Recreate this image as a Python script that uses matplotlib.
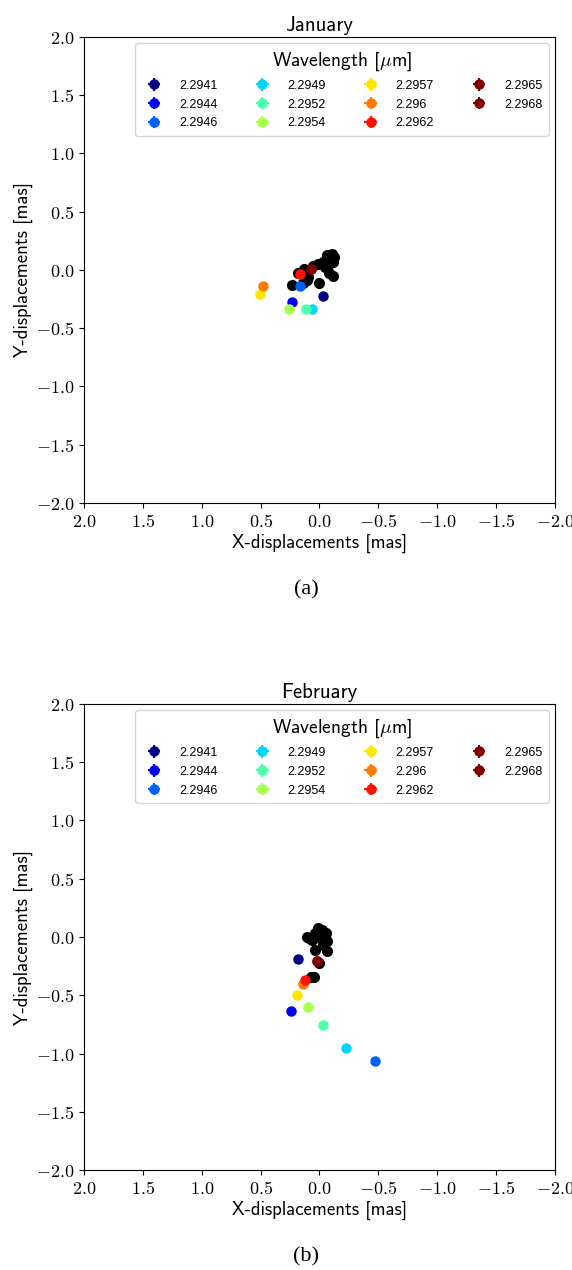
import matplotlib
matplotlib.use("Agg")
import matplotlib.pyplot as plt
from matplotlib.ticker import FuncFormatter
import numpy as np

plt.rcParams['mathtext.fontset'] = 'cm'

wavelengths = ['2.2941', '2.2944', '2.2946', '2.2949', '2.2952', '2.2954',
               '2.2957', '2.296', '2.2962', '2.2965', '2.2968']

# January - coloured points, one per wavelength
jan_x = [-0.032, 0.231, 0.166, 0.061, 0.117, 0.256, 0.505, 0.477, 0.166, 0.072, 0.072]
jan_y = [-0.220, -0.277, -0.137, -0.332, -0.337, -0.335, -0.206, -0.137, -0.037, 0.008, 0.008]
# January - black points
jan_bx = [0.231, 0.138, 0.180, 0.132, 0.095, 0.053, 0.010, 0.002, -0.032, -0.061,
          -0.103, -0.123, -0.112, -0.075, -0.117, -0.083, -0.047, 0.109]
jan_by = [-0.129, -0.109, -0.029, 0.006, -0.057, 0.034, 0.049, -0.109, 0.071, 0.129,
          0.137, 0.114, 0.071, 0.043, -0.052, -0.023, 0.028, -0.086]

# February
feb_x = [0.180, 0.239, -0.474, -0.222, -0.032, 0.100, 0.189, 0.138, 0.123, 0.024, 0.024]
feb_y = [-0.192, -0.632, -1.062, -0.956, -0.755, -0.598, -0.498, -0.403, -0.369, -0.210, -0.210]
feb_bx = [0.087, 0.066, 0.038, 0.010, -0.019, -0.055, -0.066, -0.032, -0.004, 0.041,
          -0.061, 0.002, 0.075, 0.047, -0.027, 0.109]
feb_by = [-0.011, -0.026, 0.031, 0.080, 0.060, 0.031, -0.032, -0.026, -0.011, -0.112,
          -0.117, -0.220, -0.340, -0.346, -0.069, 0.003]

colors = [plt.cm.jet(min(i / 9, 1.0)) for i in range(len(wavelengths))]
ticks = [2.0, 1.5, 1.0, 0.5, 0.0, -0.5, -1.0, -1.5, -2.0]

fig = plt.figure(figsize=(5.72, 12.7), dpi=100)


def panel(rect, title, cx, cy, bx, by, caption, cap_y):
    ax = fig.add_axes(rect)
    ax.plot(bx, by, 'o', color='black', ms=7, zorder=2)
    for i in range(len(wavelengths)):
        ax.errorbar(cx[i], cy[i], xerr=0, yerr=0, fmt='o', color=colors[i],
                    ms=6.5, label=wavelengths[i], zorder=3)
    ax.set_xlim(2, -2)
    ax.set_ylim(-2, 2)
    ax.set_xticks(ticks)
    ax.set_yticks(ticks)
    fmt = FuncFormatter(lambda v, p: r'$%.1f$' % v)
    ax.xaxis.set_major_formatter(fmt)
    ax.yaxis.set_major_formatter(fmt)
    ax.tick_params(labelsize=13)
    ax.set_xlabel('X-displacements [mas]', family='cmss10', fontsize=13.5, labelpad=2)
    ax.set_ylabel('Y-displacements [mas]', family='cmss10', fontsize=13.5, labelpad=2)
    ax.set_title(title, family='cmss10', fontsize=15, pad=4)
    leg = ax.legend(ncol=4, loc='upper right', title=r'Wavelength [$\mu$m]',
                    prop={'family': 'Liberation Sans', 'size': 9},
                    handlelength=2.0, handletextpad=1.0, columnspacing=2.6,
                    borderpad=0.5, labelspacing=0.55, borderaxespad=0.5)
    leg.get_title().set_family('cmss10')
    leg.get_title().set_fontsize(14)
    fig.text(0.535, cap_y, caption, ha='center', va='center',
             family='Liberation Serif', fontsize=16)
    return ax


panel([0.147, 0.604, 0.823, 0.367], 'January', jan_x, jan_y, jan_bx, jan_by, '(a)', 1 - 590 / 1270)
panel([0.147, 0.0787, 0.823, 0.367], 'February', feb_x, feb_y, feb_bx, feb_by, '(b)', 1 - 1257 / 1270)

fig.savefig('out.png', dpi=100)
